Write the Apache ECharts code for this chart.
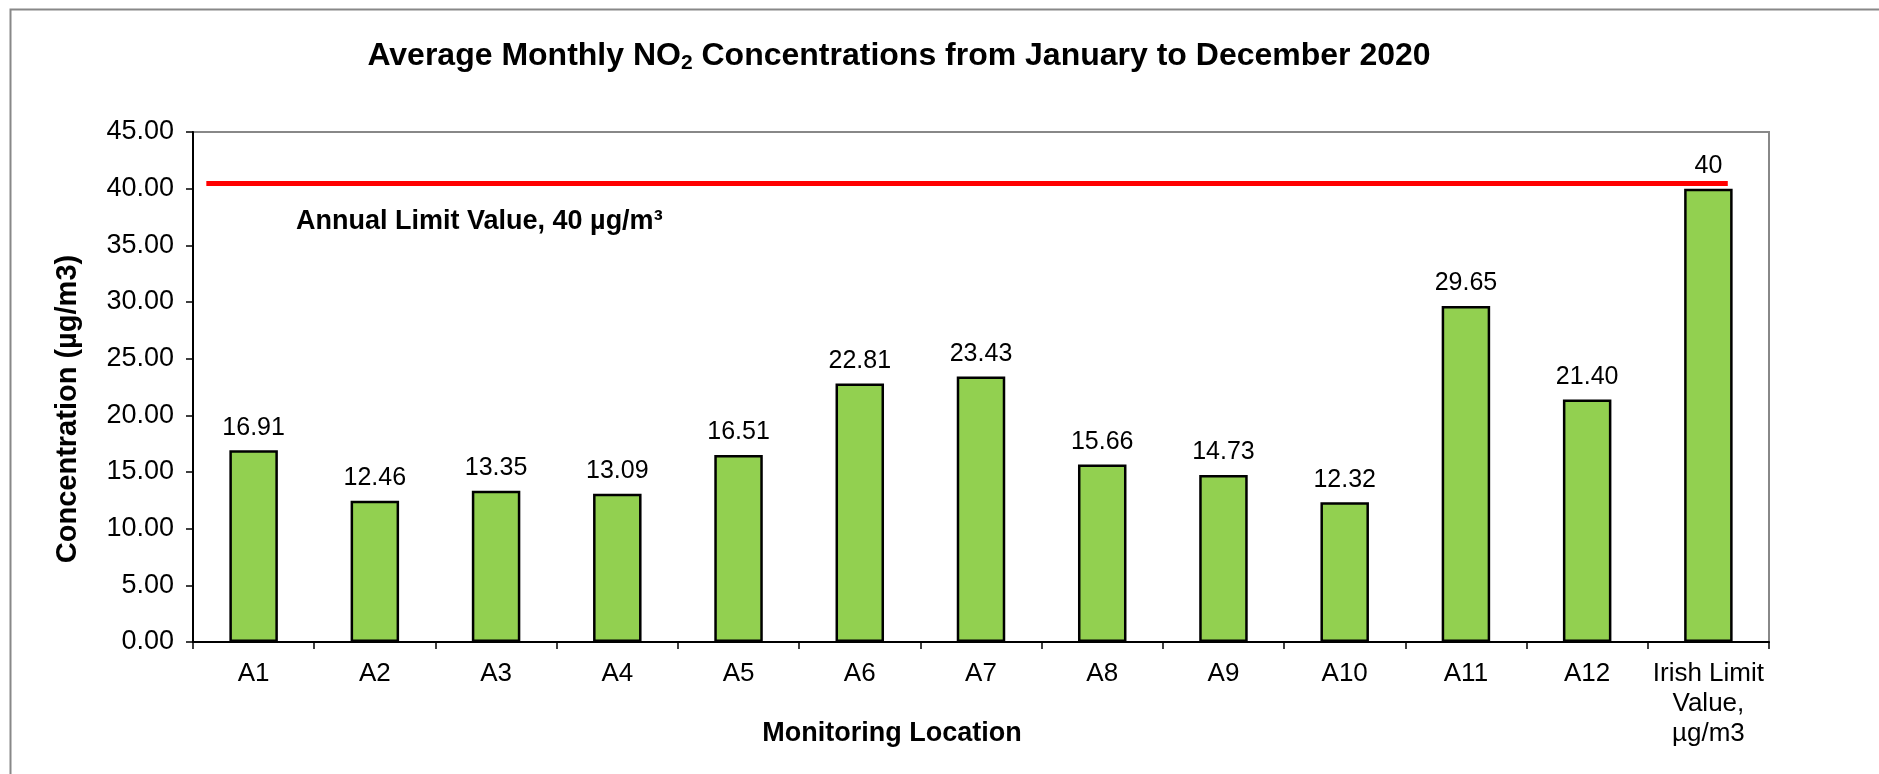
<!DOCTYPE html>
<html>
<head>
<meta charset="utf-8">
<script src="https://cdn.jsdelivr.net/npm/echarts@6/dist/echarts.min.js"></script>
<style>html,body{margin:0;padding:0;background:#fff}#c{width:1879px;height:774px}</style>
</head>
<body>
<div id="c"></div>
<script>
const categories = ['A1','A2','A3','A4','A5','A6','A7','A8','A9','A10','A11','A12','Irish Limit\nValue,\nµg/m3'];
const concentrations = [16.91,12.46,13.35,13.09,16.51,22.81,23.43,15.66,14.73,12.32,29.65,21.40,40];
const valueLabels = ['16.91','12.46','13.35','13.09','16.51','22.81','23.43','15.66','14.73','12.32','29.65','21.40','40'];
const yTicks = [0,5,10,15,20,25,30,35,40,45];
const limitLineX = [-0.39, 12.16];
const limitLineValue = 40.45;

const FONT = 'Liberation Sans, Arial, sans-serif';
const chart = echarts.init(document.getElementById('c'), null, {renderer:'canvas'});
chart.setOption({
  animation:false,
  backgroundColor:'#fff',
  textStyle:{fontFamily:FONT},
  grid:{left:193,right:110,top:132,bottom:132,containLabel:false,outerBoundsMode:'none',
        show:true,borderColor:'#888',borderWidth:2,backgroundColor:'transparent'},
  xAxis:[{
    type:'category', data:categories, boundaryGap:true,
    axisLine:{lineStyle:{color:'#000',width:2}},
    axisTick:{show:true,length:7,lineStyle:{color:'#000',width:1.5}},
    axisLabel:{color:'#000',fontSize:26,fontFamily:FONT,margin:17,lineHeight:30,interval:0},
    name:'Monitoring Location', nameLocation:'middle', nameGap:78, nameMoveOverlap:false,
    nameTextStyle:{color:'#000',fontSize:27,fontWeight:'bold',fontFamily:FONT,padding:[0,178,0,0]}
  },{
    type:'value', min:-0.5, max:12.5, show:false
  }],
  yAxis:{
    type:'value', min:yTicks[0], max:yTicks[yTicks.length-1], interval:5,
    axisLine:{show:true,onZero:false,lineStyle:{color:'#000',width:2}},
    axisTick:{show:true,length:7,lineStyle:{color:'#000',width:1.5}},
    splitLine:{show:false},
    axisLabel:{color:'#000',fontSize:27,fontFamily:FONT,margin:19,formatter:v=>v.toFixed(2)},
    name:'Concentration (µg/m3)', nameLocation:'middle', nameGap:111, nameMoveOverlap:false,
    nameTextStyle:{color:'#000',fontSize:29,fontWeight:'bold',fontFamily:FONT,padding:[0,44,0,0]}
  },
  series:[{
    type:'bar', data:concentrations, barWidth:'40%',
    itemStyle:{color:'#92D050',borderColor:'#000',borderWidth:2.5},
    label:{show:true,position:'top',distance:10,color:'#000',fontSize:25,fontFamily:FONT,
      formatter:p=>valueLabels[p.dataIndex]},
    z:2
  },{
    type:'line', xAxisIndex:1, data:limitLineX.map(x=>[x,limitLineValue]),
    symbol:'none', lineStyle:{color:'#FF0000',width:5}, z:3, silent:true
  }],
  graphic:[
    {type:'rect',left:8,top:7,shape:{x:0,y:0,width:1900,height:800},style:{fill:'none',stroke:'#888',lineWidth:2},silent:true,z:-1},
    {type:'text',x:899,y:56,style:{
      text:'Average Monthly NO{sub|2} Concentrations from January to December 2020',
      textAlign:'center',textVerticalAlign:'middle',
      font:'bold 32px '+FONT, fill:'#000',
      rich:{sub:{fontSize:21,fontWeight:'bold',fontFamily:FONT,padding:[14,0,0,0],fill:'#000'}}
    }},
    {type:'text',x:296,y:222,style:{text:'Annual Limit Value, 40 µg/m³',textAlign:'left',textVerticalAlign:'middle',font:'bold 27px '+FONT,fill:'#000'}}
  ]
});
</script>
</body>
</html>
